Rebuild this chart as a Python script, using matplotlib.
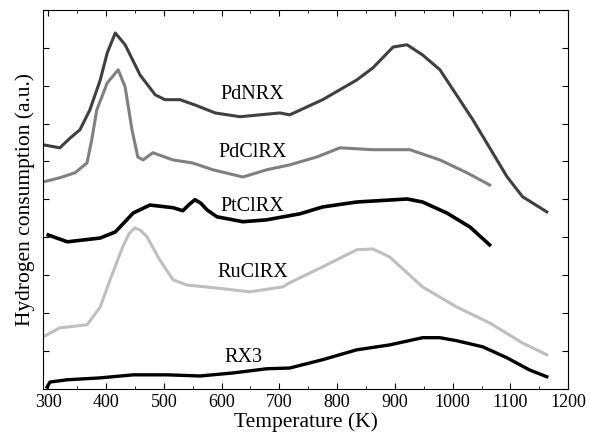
import matplotlib
matplotlib.use("Agg")
import matplotlib.pyplot as plt
from matplotlib.ticker import MultipleLocator

plt.rcParams['font.family'] = ['Liberation Serif', 'DejaVu Serif']

# Temperature (K) / signal (a.u., stacked offsets)
pdn_t = [291, 320, 338, 355, 372, 390, 402, 416, 433, 459, 485, 502, 528, 554, 589, 632, 701, 718,
         775, 834, 862, 897, 921, 948, 978, 1035, 1094, 1121, 1163]
pdn_y = [6.44, 6.36, 6.62, 6.84, 7.36, 8.15, 8.86, 9.39, 9.08, 8.28, 7.76, 7.63, 7.63, 7.49, 7.28, 7.18, 7.28, 7.23,
         7.63, 8.15, 8.47, 9.02, 9.08, 8.81, 8.42, 7.10, 5.60, 5.07, 4.67]

pdcl_t = [291, 320, 346, 367, 375, 384, 402, 421, 433, 445, 455, 464, 481, 516, 550, 585, 637, 678,
          718, 765, 805, 862, 926, 978, 1025, 1064]
pdcl_y = [5.46, 5.57, 5.70, 5.96, 6.55, 7.36, 8.07, 8.42, 7.97, 6.83, 6.12, 6.04, 6.23, 6.04, 5.96, 5.78, 5.59, 5.78,
          5.91, 6.12, 6.36, 6.31, 6.31, 6.04, 5.70, 5.38]

ptcl_t = [300, 333, 390, 416, 436, 447, 476, 516, 533, 545, 554, 564, 575, 592, 637, 678, 736, 775, 834,
          921, 948, 990, 1030, 1064]
ptcl_y = [4.06, 3.88, 3.98, 4.14, 4.46, 4.64, 4.85, 4.78, 4.70, 4.88, 4.99, 4.90, 4.72, 4.54, 4.41, 4.46, 4.62, 4.80, 4.93,
          5.01, 4.93, 4.64, 4.27, 3.80]

rucl_t = [291, 320, 367, 390, 407, 429, 440, 450, 460, 471, 493, 516, 540, 592, 649, 706, 718, 775, 834,
          862, 891, 948, 1007, 1064, 1121, 1163]
rucl_y = [1.37, 1.61, 1.69, 2.16, 2.88, 3.75, 4.10, 4.25, 4.18, 4.01, 3.40, 2.88, 2.74, 2.66, 2.56, 2.69, 2.80, 3.22, 3.67,
          3.69, 3.48, 2.69, 2.16, 1.74, 1.21, 0.90]

rx3_t = [298, 303, 333, 390, 447, 506, 563, 620, 678, 718, 775, 834, 891, 948, 978, 1007, 1052,
         1094, 1133, 1163]
rx3_y = [0.05, 0.18, 0.24, 0.29, 0.37, 0.37, 0.34, 0.42, 0.53, 0.55, 0.77, 1.03, 1.16, 1.35, 1.35, 1.27, 1.11,
         0.82, 0.50, 0.32]

fig = plt.figure(figsize=(5.9, 4.48), dpi=100)
ax = fig.add_axes([0.073, 0.132, 0.89, 0.846])

ax.plot(pdn_t, pdn_y, color='#404040', lw=2.2)
ax.plot(pdcl_t, pdcl_y, color='#808080', lw=2.2)
ax.plot(ptcl_t, ptcl_y, color='#000000', lw=2.6)
ax.plot(rucl_t, rucl_y, color='#bfbfbf', lw=2.2)
ax.plot(rx3_t, rx3_y, color='#000000', lw=2.4)

ax.text(654, 7.76, 'PdNRX', fontsize=14.5, ha='center', va='center')
ax.text(654, 6.23, 'PdClRX', fontsize=14.5, ha='center', va='center')
ax.text(654, 4.80, 'PtClRX', fontsize=14.5, ha='center', va='center')
ax.text(654, 3.06, 'RuClRX', fontsize=14.5, ha='center', va='center')
ax.text(637, 0.82, 'RX3', fontsize=14.5, ha='center', va='center')

ax.set_xlim(291, 1200)
ax.set_ylim(0, 10)
ax.xaxis.set_major_locator(MultipleLocator(100))
ax.xaxis.set_minor_locator(MultipleLocator(50))
ax.yaxis.set_major_locator(MultipleLocator(1))
ax.tick_params(which='both', direction='in', top=True, right=True, labelsize=13)
ax.tick_params(which='major', length=4)
ax.tick_params(which='minor', length=2.5)
ax.set_yticklabels([])
ax.set_xlabel('Temperature (K)', fontsize=15.5, labelpad=1)
ax.set_ylabel('Hydrogen consumption (a.u.)', fontsize=15.5, labelpad=2)

fig.savefig('out.png', dpi=100)
